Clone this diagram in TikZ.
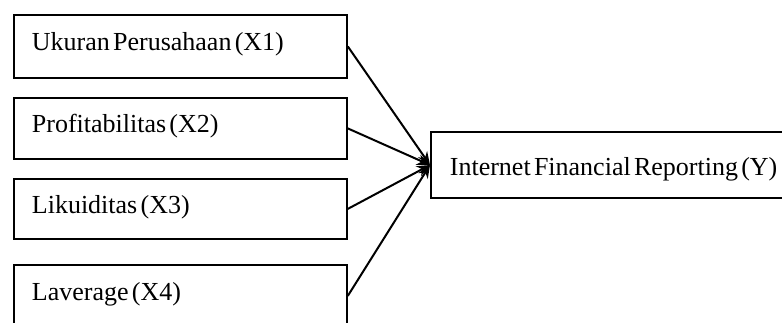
\documentclass[tikz,border=0pt]{standalone}
\usepackage{fontspec}
\setmainfont{Liberation Serif}[WordSpace=0.5]
\usetikzlibrary{arrows.meta}
\tikzstyle{varbox}=[
    draw, rectangle,
    line width=1.8pt,
    anchor=north west,
    minimum width=333pt,
    inner xsep=18pt,
    text width=297pt,
    align=flush left,
    text height=18pt,
    text depth=9pt,
    font=\fontsize{26}{31}\selectfont,
]
\tikzstyle{depbox}=[
    varbox,
    anchor=west,
    minimum width=380pt,
    minimum height=66pt,
    inner xsep=19pt,
    text width=342pt,
    text height=20pt,
    text depth=0pt,
]

\begin{document}
\begin{tikzpicture}[x=1pt, y=-1pt, >={Stealth[length=13pt,width=11pt]}]
        \useasboundingbox (0,0) rectangle (782,322);
        \clip (0,0) rectangle (782,322);
        \node (ukuran) at (13, 14) [varbox, minimum height=63pt] {Ukuran Perusahaan (X1)};
        \node (profit) at (13, 97) [varbox, minimum height=61pt] {Profitabilitas (X2)};
        \node (likuid) at (13, 178) [varbox, minimum height=60pt] {Likuiditas (X3)};
        \node (laverage) at (13, 264) [varbox, minimum height=62pt] {Laverage (X4)};
        \node (ifr) at (430, 165) [depbox] {Internet Financial Reporting (Y)};
        % arrows into the dependent variable
        \foreach \src in {ukuran, profit, likuid, laverage}
            \draw [->, line width=2pt] (\src.east) -- (ifr.west);
    \end{tikzpicture}
\end{document}
